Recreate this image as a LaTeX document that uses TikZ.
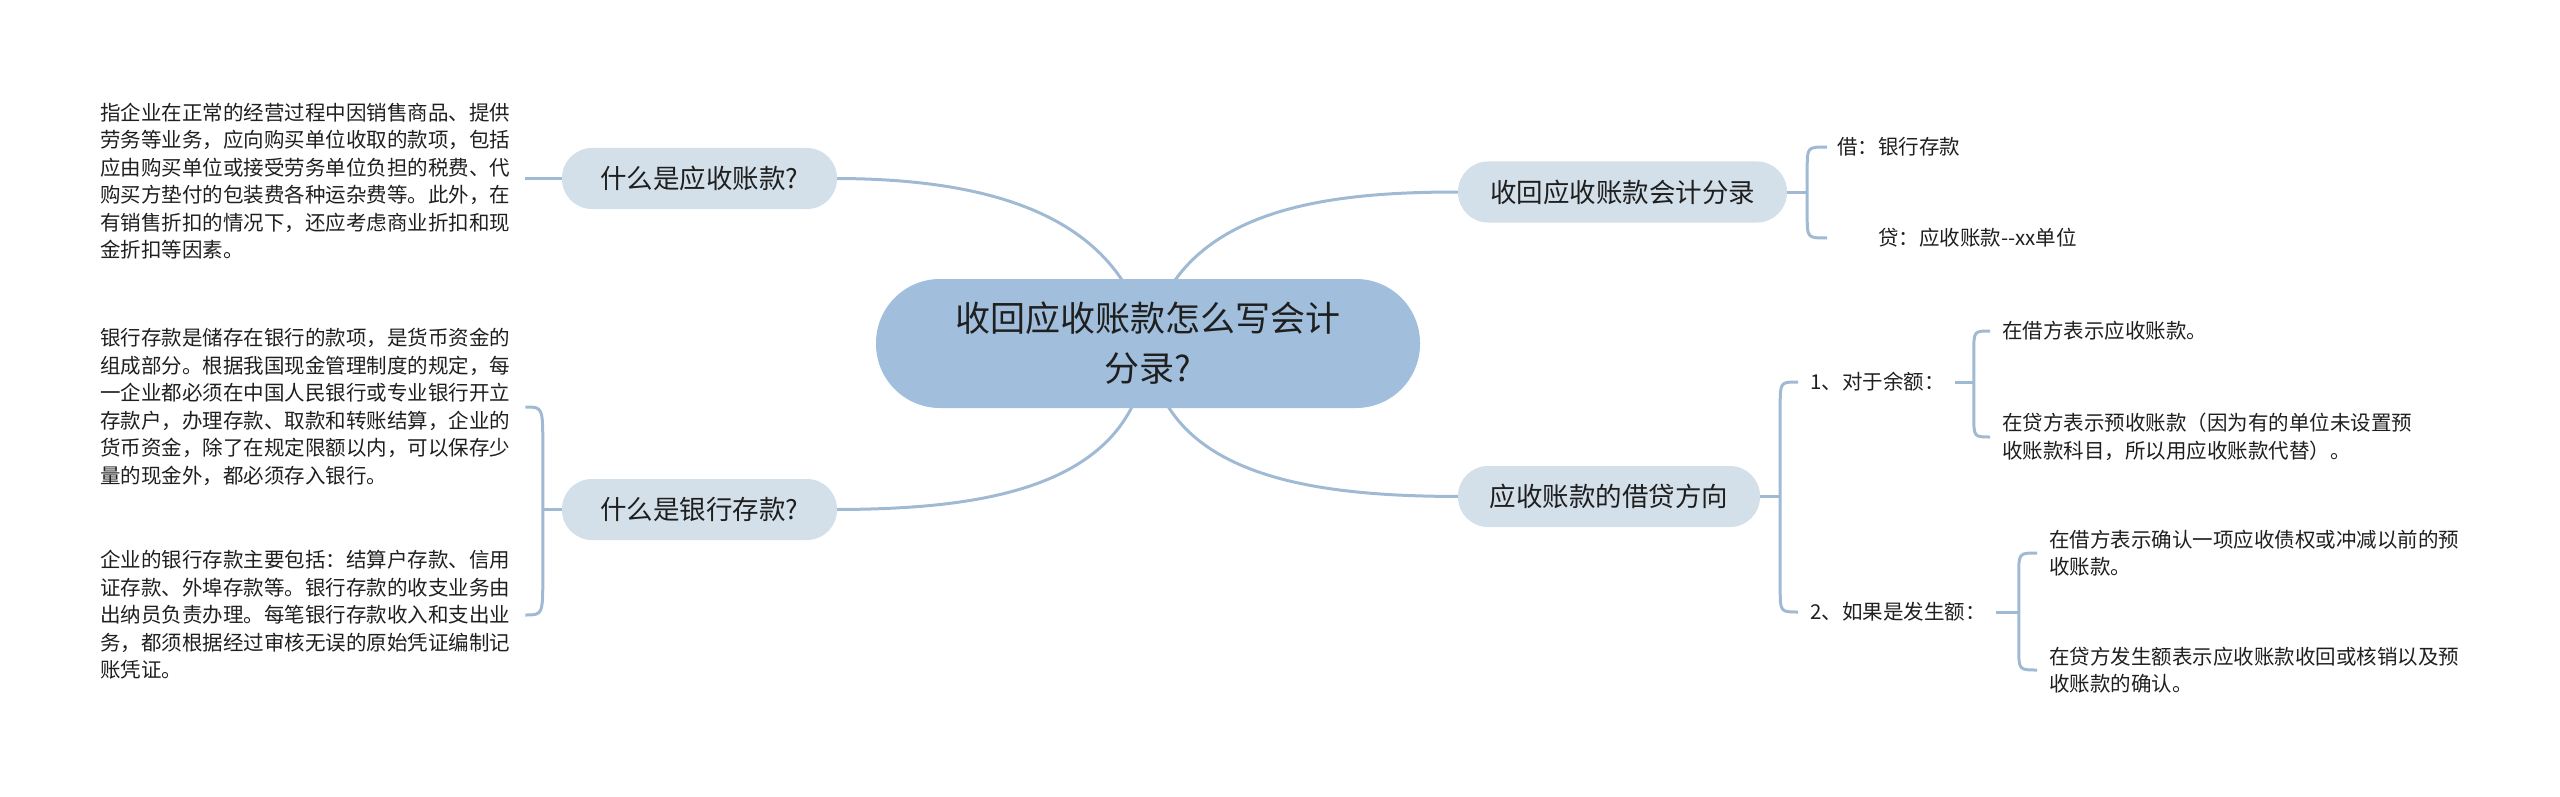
\documentclass[tikz,border=0pt]{standalone}
\usepackage{fontspec}
\setmainfont{Noto Sans CJK SC}
\usetikzlibrary{calc}
\pgfdeclarelayer{bg}
\pgfsetlayers{bg,main}
\definecolor{lineC}{HTML}{A0BAD4}
\definecolor{rootC}{HTML}{A1BFDC}
\definecolor{subC}{HTML}{D3E0EA}
\definecolor{txtC}{HTML}{1F1F1F}
\begin{document}
\begin{tikzpicture}[x=1pt,y=-1pt,
  conn/.style={draw=lineC,line width=3pt},
  rootnode/.style={fill=rootC,rounded corners=64pt,minimum width=544pt,minimum height=129pt,text=txtC,font=\fontsize{35}{50}\selectfont,align=center,inner sep=0pt},
  subnode/.style={fill=subC,rounded corners=30pt,minimum height=61pt,text=txtC,font=\fontsize{26.5}{32}\selectfont,inner sep=0pt},
  leaf/.style={text=txtC,font=\fontsize{20.5}{27.5}\selectfont,align=left,inner sep=0pt,anchor=west}]
\useasboundingbox (0,0) rectangle (2560,797);

% main nodes
\node[rootnode] (root) at (1148,343.5) {收回应收账款怎么写会计\\分录?};
\node[subnode,minimum width=275pt] (q1) at (699.5,178.5) {什么是应收账款?};
\node[subnode,minimum width=275pt] (q2) at (699.5,509.5) {什么是银行存款?};
\node[subnode,minimum width=329pt] (r1) at (1622.5,192) {收回应收账款会计分录};
\node[subnode,minimum width=302pt] (r2) at (1609,496.5) {应收账款的借贷方向};

% left leaves
\node[leaf] (t1) at (100,181) {指企业在正常的经营过程中因销售商品、提供\\劳务等业务，应向购买单位收取的款项，包括\\应由购买单位或接受劳务单位负担的税费、代\\购买方垫付的包装费各种运杂费等。此外，在\\有销售折扣的情况下，还应考虑商业折扣和现\\金折扣等因素。};
\node[leaf] (t2) at (100,407) {银行存款是储存在银行的款项，是货币资金的\\组成部分。根据我国现金管理制度的规定，每\\一企业都必须在中国人民银行或专业银行开立\\存款户，办理存款、取款和转账结算，企业的\\货币资金，除了在规定限额以内，可以保存少\\量的现金外，都必须存入银行。};
\node[leaf] (t3) at (100,615) {企业的银行存款主要包括：结算户存款、信用\\证存款、外埠存款等。银行存款的收支业务由\\出纳员负责办理。每笔银行存款收入和支出业\\务，都须根据经过审核无误的原始凭证编制记\\账凭证。};

% right leaves
\node[leaf] (deb) at (1837,147) {借：银行存款};
\node[leaf] (cred) at (1878,238) {贷：应收账款{-}{-}xx单位};
\node[leaf] (b1) at (1810,382) {1、对于余额：};
\node[leaf] (b2) at (1810,612) {2、如果是发生额：};
\node[leaf] (c1) at (2002,331) {在借方表示应收账款。};
\node[leaf] (c2) at (2002,437) {在贷方表示预收账款（因为有的单位未设置预\\收账款科目，所以用应收账款代替）。};
\node[leaf] (d1) at (2049,553) {在借方表示确认一项应收债权或冲减以前的预\\收账款。};
\node[leaf] (d2) at (2049,670) {在贷方发生额表示应收账款收回或核销以及预\\收账款的确认。};

% helper coordinates
\coordinate (t1e) at ($(t1.east)+(15,0)$);
\coordinate (q2s) at ($(q2.west)+(-19,0)$);
\coordinate (q2a) at ($(t2.east)+(15,0)$);
\coordinate (q2b) at ($(t3.east)+(15,0)$);
\coordinate (s1) at ($(r1.east)+(20,0)$);
\coordinate (e1a) at ($(deb.west)+(-10,0)$);
\coordinate (e1b) at (cred.west -| e1a);
\coordinate (s2) at ($(r2.east)+(20,0)$);
\coordinate (e2a) at ($(b1.west)+(-12,0)$);
\coordinate (e2b) at ($(b2.west)+(-12,0)$);
\coordinate (sb1) at ($(b1.east)+(29,0)$);
\coordinate (e3a) at ($(c1.west)+(-12,0)$);
\coordinate (e3b) at ($(c2.west)+(-12,0)$);
\coordinate (sb2) at ($(b2.east)+(33,0)$);
\coordinate (e4a) at ($(d1.west)+(-12,0)$);
\coordinate (e4b) at ($(d2.west)+(-12,0)$);

\begin{pgfonlayer}{bg}
% root to main topics
\draw[conn] (root.center) .. controls (1120,210) and (980,179) .. (q1.east);
\draw[conn] (root.center) .. controls (1176,210) and (1320,192) .. (r1.west);
\draw[conn] (root.center) .. controls (1140,490) and (980,509) .. (q2.east);
\draw[conn] (root.center) .. controls (1160,480) and (1320,496) .. (r2.west);
\end{pgfonlayer}

% q1 to its text
\draw[conn] (q1.west) -- (q1.west -| t1e);

% q2 bracket
\draw[conn] (q2.west) -- (q2s);
\draw[conn] (q2a) .. controls (q2a -| q2s) .. ($(q2a -| q2s)+(0,40)$) -- ($(q2b -| q2s)+(0,-40)$) .. controls (q2b -| q2s) .. (q2b);

% r1 bracket
\draw[conn] (r1.east) -- (s1);
\draw[conn] (e1a) .. controls (e1a -| s1) .. ($(e1a -| s1)+(0,22)$) -- ($(e1b -| s1)+(0,-22)$) .. controls (e1b -| s1) .. (e1b);

% r2 bracket
\draw[conn] (r2.east) -- (s2);
\draw[conn] (e2a) .. controls (e2a -| s2) .. ($(e2a -| s2)+(0,24)$) -- ($(e2b -| s2)+(0,-24)$) .. controls (e2b -| s2) .. (e2b);

% b1 bracket
\draw[conn] (b1.east) ++(10,0) -- (sb1);
\draw[conn] (e3a) .. controls (e3a -| sb1) .. ($(e3a -| sb1)+(0,22)$) -- ($(e3b -| sb1)+(0,-22)$) .. controls (e3b -| sb1) .. (e3b);

% b2 bracket
\draw[conn] (b2.east) ++(10,0) -- (sb2);
\draw[conn] (e4a) .. controls (e4a -| sb2) .. ($(e4a -| sb2)+(0,22)$) -- ($(e4b -| sb2)+(0,-22)$) .. controls (e4b -| sb2) .. (e4b);
\end{tikzpicture}
\end{document}
